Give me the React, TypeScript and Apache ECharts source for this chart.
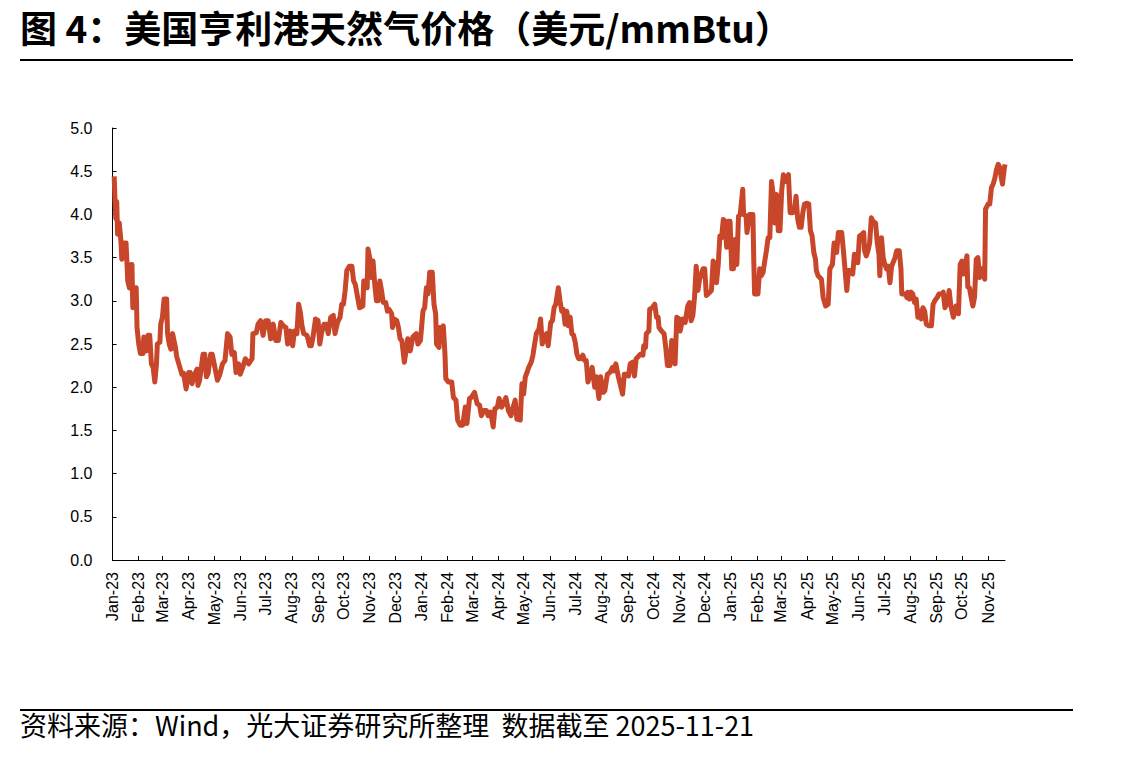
import React, { useEffect, useRef } from "react";
import * as echarts from "echarts";

const TITLE = "图 4：美国亨利港天然气价格（美元/mmBtu）";
const SOURCE = "资料来源：Wind，光大证券研究所整理  数据截至 2025-11-21";

// x-axis tick labels (first day of each month, starting Jan 2023)
const monthLabels = [
  "Jan-23", "Feb-23", "Mar-23", "Apr-23", "May-23", "Jun-23", "Jul-23", "Aug-23", "Sep-23", "Oct-23", "Nov-23", "Dec-23",
  "Jan-24", "Feb-24", "Mar-24", "Apr-24", "May-24", "Jun-24", "Jul-24", "Aug-24", "Sep-24", "Oct-24", "Nov-24", "Dec-24",
  "Jan-25", "Feb-25", "Mar-25", "Apr-25", "May-25", "Jun-25", "Jul-25", "Aug-25", "Sep-25", "Oct-25", "Nov-25",
];

// y-axis tick labels
const yTicks = ["0.0", "0.5", "1.0", "1.5", "2.0", "2.5", "3.0", "3.5", "4.0", "4.5", "5.0"];

// observation dates, as days since 2023-01-01
const dayOffsets = [
  2, 3, 4, 5, 6, 8, 10, 11, 14, 16, 17, 18, 20, 22, 23, 24, 27, 28, 29, 31, 33, 36, 37, 40, 42, 44, 46, 48, 50, 52, 53,
  56, 57, 59, 61, 64, 65, 67, 69, 71, 74, 76, 79, 82, 84, 87, 90, 92, 94, 96, 100, 101, 103, 107, 109, 111, 113, 116,
  118, 121, 124, 127, 130, 133, 136, 139, 141, 144, 146, 149, 151, 154, 157, 161, 165, 166, 170, 172, 175, 178, 181,
  184, 187, 190, 193, 196, 199, 202, 205, 207, 210, 213, 215, 218, 220, 222, 224, 226, 230, 233, 235, 237, 240, 243,
  245, 247, 250, 253, 255, 258, 261, 263, 266, 269, 271, 273, 275, 277, 280, 283, 285, 287, 289, 292, 296, 297, 300,
  301, 302, 304, 306, 308, 310, 312, 314, 316, 318, 320, 323, 325, 327, 330, 331, 333, 336, 338, 340, 342, 345, 347,
  349, 352, 355, 357, 359, 361, 364, 367, 369, 371, 373, 375, 378, 380, 382, 383, 386, 387, 389, 391, 393, 394, 397,
  401, 403, 406, 408, 411, 414, 417, 419, 422, 424, 428, 431, 434, 436, 439, 442, 444, 447, 450, 452, 455, 457, 460,
  463, 465, 468, 471, 473, 476, 478, 482, 484, 486, 488, 490, 492, 495, 497, 499, 501, 504, 506, 508, 511, 513, 515,
  518, 520, 522, 524, 527, 529, 531, 533, 535, 537, 539, 541, 543, 545, 547, 549, 551, 553, 556, 558, 560, 562, 564,
  567, 570, 572, 575, 577, 580, 582, 585, 588, 591, 593, 595, 598, 601, 603, 605, 608, 610, 612, 615, 617, 619, 621,
  624, 627, 628, 630, 631, 634, 635, 638, 641, 643, 645, 646, 649, 652, 654, 656, 659, 661, 663, 665, 667, 670, 671,
  674, 677, 679, 680, 682, 684, 686, 688, 690, 692, 694, 698, 700, 702, 706, 708, 710, 712, 714, 716, 718, 720, 722,
  724, 726, 728, 730, 732, 734, 736, 738, 740, 742, 745, 746, 749, 750, 753, 757, 758, 759, 763, 765, 767, 769, 771,
  773, 775, 777, 779, 781, 783, 785, 787, 789, 791, 793, 795, 797, 799, 801, 804, 806, 808, 810, 812, 814, 816, 818,
  821, 823, 825, 827, 829, 831, 832, 834, 838, 840, 843, 846, 848, 851, 853, 856, 858, 862, 864, 866, 868, 870, 872,
  875, 877, 880, 881, 883, 886, 888, 889, 891, 893, 895, 897, 899, 902, 904, 906, 907, 909, 911, 913, 915, 917, 919,
  921, 925, 927, 930, 932, 933, 937, 939, 940, 942, 944, 946, 948, 950, 952, 954, 956, 958, 960, 962, 965, 968, 970,
  972, 975, 977, 980, 982, 984, 987, 989, 991, 994, 997, 1000, 1002, 1004, 1006, 1008, 1010, 1011, 1013, 1015, 1017,
  1019, 1021, 1023, 1025, 1027, 1029, 1031, 1032, 1035, 1037, 1039, 1041, 1043, 1045, 1047, 1049, 1050, 1052, 1054, 1055,
];

// Henry Hub price, USD/mmBtu
const prices = [
  4.44, 4.15, 3.95, 4.15, 3.77, 3.9, 3.69, 3.48, 3.67, 3.67, 3.46, 3.23, 3.15, 3.42, 3.42, 2.92, 3.15, 3.15, 2.69, 2.5, 2.39, 2.39, 2.58, 2.42, 2.6, 2.6, 2.27, 2.23, 2.06, 2.27, 2.5,
  2.52, 2.73, 2.81, 3.02, 3.02, 2.63, 2.5, 2.44, 2.62, 2.48, 2.35, 2.25, 2.15, 2.16, 1.98, 2.17, 2.17, 2.04, 2.12, 2.21, 2.02, 2.08, 2.38, 2.38, 2.12, 2.16, 2.38,
  2.38, 2.23, 2.08, 2.15, 2.27, 2.31, 2.62, 2.58, 2.38, 2.4, 2.17, 2.27, 2.15, 2.23, 2.33, 2.27, 2.33, 2.62, 2.63, 2.73, 2.77, 2.6, 2.77,
  2.77, 2.56, 2.73, 2.54, 2.54, 2.75, 2.71, 2.69, 2.5, 2.65, 2.48, 2.65, 2.62, 2.96, 2.87, 2.71, 2.62, 2.6, 2.48, 2.48, 2.58, 2.79, 2.77,
  2.5, 2.62, 2.73, 2.73, 2.62, 2.81, 2.83, 2.62, 2.75, 2.81, 2.96, 2.96, 3.12, 3.35, 3.4, 3.4, 3.23, 3.19, 3.08, 2.92, 2.94, 3.23, 3.23,
  3.15, 3.6, 3.5, 3.27, 3.46, 3.19, 3.0, 3.0, 3.23, 3.12, 2.98, 2.98, 2.88, 2.9, 2.85, 2.69, 2.79, 2.77, 2.69, 2.56, 2.54, 2.29, 2.42,
  2.56, 2.42, 2.58, 2.6, 2.62, 2.5, 2.54, 2.88, 2.92, 3.15, 3.08, 3.33, 3.33, 2.96, 2.85, 2.5, 2.46, 2.69, 2.62, 2.71, 2.38, 2.1, 2.06,
  2.06, 1.88, 1.85, 1.62, 1.56, 1.56, 1.77, 1.58, 1.87, 1.88, 1.94, 1.81, 1.79, 1.67, 1.73, 1.73, 1.67, 1.71, 1.54, 1.75, 1.77, 1.87, 1.77,
  1.83, 1.88, 1.73, 1.67, 1.75, 1.85, 1.63, 1.62, 2.04, 1.92, 2.12, 2.17, 2.23, 2.29, 2.37, 2.5, 2.62, 2.67, 2.79, 2.5, 2.58, 2.62, 2.48,
  2.75, 2.77, 2.92, 2.96, 3.15, 3.0, 2.88, 2.9, 2.73, 2.88, 2.71, 2.81, 2.62, 2.6, 2.52, 2.38, 2.33, 2.33, 2.37, 2.31, 2.31, 2.06, 2.12,
  2.23, 2.0, 2.12, 1.87, 2.12, 1.94, 1.96, 2.15, 2.17, 2.23, 2.19, 2.27, 2.12, 2.0, 1.92, 2.15, 2.15, 2.13, 2.27, 2.29, 2.13, 2.33, 2.35,
  2.38, 2.37, 2.48, 2.46, 2.62, 2.65, 2.9, 2.92, 2.96, 2.81, 2.81, 2.69, 2.65, 2.62, 2.46, 2.25, 2.25, 2.54, 2.52, 2.27, 2.81, 2.79, 2.65,
  2.79, 2.75, 2.88, 2.94, 2.98, 2.77, 2.83, 3.04, 3.4, 3.12, 3.25, 3.37, 3.37, 3.06, 3.1, 3.12, 3.46, 3.42, 3.21, 3.42, 3.75, 3.73, 3.94,
  3.92, 3.62, 3.92, 3.92, 3.37, 3.37, 3.71, 3.42, 3.98, 4.0, 4.29, 4.0, 3.98, 3.79, 4.0, 4.0, 3.48, 3.08, 3.08, 3.37, 3.29, 3.33, 3.46,
  3.58, 3.73, 3.73, 4.38, 4.23, 3.9, 4.23, 3.81, 3.81, 4.27, 4.46, 4.38, 4.4, 4.46, 4.02, 4.02, 4.04, 4.21, 3.94, 3.85, 3.85, 4.02, 4.12,
  4.13, 4.12, 3.81, 3.75, 3.56, 3.48, 3.35, 3.29, 3.25, 3.04, 2.94, 2.96, 3.37, 3.42, 3.67, 3.56, 3.79, 3.79, 3.58, 3.35, 3.12, 3.35, 3.35,
  3.31, 3.54, 3.5, 3.44, 3.75, 3.77, 3.79, 3.58, 3.52, 3.58, 3.67, 3.96, 3.92, 3.9, 3.67, 3.54, 3.29, 3.73, 3.5, 3.42, 3.37, 3.4, 3.21,
  3.4, 3.5, 3.58, 3.58, 3.37, 3.08, 3.08, 3.04, 3.1, 3.02, 3.1, 3.08, 2.98, 3.02, 2.81, 2.88, 2.79, 2.92, 2.88, 2.73, 2.71, 2.71, 2.96,
  3.0, 3.04, 3.08, 3.08, 3.1, 2.92, 2.98, 3.12, 2.94, 2.81, 2.94, 2.85, 3.42, 3.46, 3.31, 3.42, 3.52, 3.16, 3.15, 3.04,
  2.94, 3.04, 3.48, 3.5, 3.27, 3.37, 3.37, 3.25, 4.06, 4.12, 4.12, 4.31, 4.35, 4.42, 4.52, 4.58, 4.54, 4.46, 4.35, 4.52, 4.58,
];

const DAY = 86400000;
const START = Date.UTC(2023, 0, 1);
const END = Date.UTC(2025, 10, 21);

export default function App() {
  const ref = useRef<HTMLDivElement>(null);

  useEffect(() => {
    if (!ref.current) return;
    const chart = echarts.init(ref.current, undefined, { renderer: "svg" });

    const tickValues = monthLabels.map((_, i) => Date.UTC(2023, i, 1));
    const seriesData = dayOffsets.map((d, i) => [START + d * DAY, prices[i]]);

    const option: any = {
      animation: false,
      backgroundColor: "#ffffff",
      grid: { left: 112.5, right: 138, top: 128, bottom: 197, containLabel: false },
      xAxis: {
        type: "value",
        min: START,
        max: END,
        splitLine: { show: false },
        axisLine: { show: true, lineStyle: { color: "#000000", width: 1 } },
        axisTick: {
          show: true,
          inside: true,
          length: 4,
          customValues: tickValues,
          lineStyle: { color: "#000000" },
        },
        axisLabel: {
          show: true,
          customValues: tickValues,
          rotate: 90,
          margin: 12,
          fontSize: 16,
          fontFamily: "Liberation Sans, Arial, sans-serif",
          color: "#000000",
          formatter: (v: number) => {
            const idx = tickValues.indexOf(v);
            return idx >= 0 ? monthLabels[idx] : "";
          },
        },
      },
      yAxis: {
        type: "value",
        min: 0,
        max: 5,
        interval: 0.5,
        splitLine: { show: false },
        axisLine: { show: true, lineStyle: { color: "#000000", width: 1 } },
        axisTick: { show: true, inside: true, length: 4, lineStyle: { color: "#000000" } },
        axisLabel: {
          margin: 20,
          fontSize: 16,
          fontFamily: "Liberation Sans, Arial, sans-serif",
          color: "#000000",
          formatter: (v: number) => yTicks[Math.round(v * 2)] ?? v.toFixed(1),
        },
      },
      series: [
        {
          type: "line",
          data: seriesData,
          showSymbol: false,
          symbol: "none",
          lineStyle: { color: "#C8462A", width: 5, join: "round" },
          itemStyle: { color: "#C8462A" },
        },
      ],
      graphic: [
        {
          type: "text",
          left: 20,
          top: 8,
          style: {
            text: TITLE,
            fontSize: 37,
            fontWeight: "bold",
            fontFamily: "Noto Sans CJK SC, sans-serif",
            fill: "#000000",
          },
        },
        {
          type: "line",
          shape: { x1: 20, y1: 60, x2: 1073, y2: 60 },
          style: { stroke: "#000000", lineWidth: 2 },
        },
        {
          type: "line",
          shape: { x1: 20, y1: 710, x2: 1073, y2: 710 },
          style: { stroke: "#000000", lineWidth: 2 },
        },
        {
          type: "text",
          left: 20,
          top: 711,
          style: {
            text: SOURCE,
            fontSize: 27,
            fontFamily: "Noto Sans CJK SC, sans-serif",
            fill: "#000000",
          },
        },
      ],
    };

    chart.setOption(option);
    return () => chart.dispose();
  }, []);

  return (
    <div
      ref={ref}
      style={{ position: "fixed", left: 0, top: 0, width: 1143, height: 757, background: "#fff" }}
    />
  );
}
